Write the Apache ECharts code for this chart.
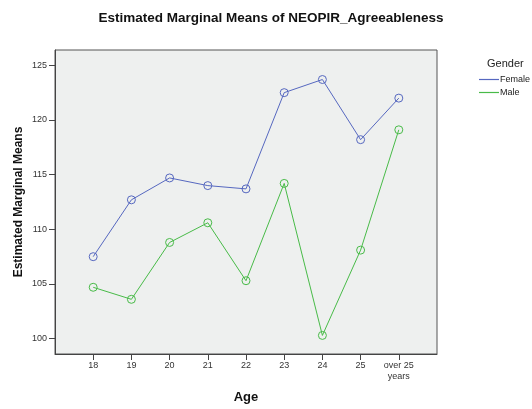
<!DOCTYPE html>
<html>
<head>
<meta charset="utf-8">
<script src="https://cdn.jsdelivr.net/npm/echarts@6/dist/echarts.min.js"></script>
<style>html,body{margin:0;padding:0;background:#fff;}#c{width:532px;height:409px;}</style>
</head>
<body>
<div id="c"></div>
<script>
const ageCategories = ['18', '19', '20', '21', '22', '23', '24', '25', 'over 25\nyears'];
const femaleMeans = [107.5, 112.7, 114.7, 114.0, 113.7, 122.5, 123.7, 118.2, 122.0];
const maleMeans = [104.7, 103.6, 108.8, 110.6, 105.3, 114.2, 100.3, 108.1, 119.1];
const yTickValues = [100, 105, 110, 115, 120, 125];

const font = '"Liberation Sans", Arial, sans-serif';
const femaleColor = '#5668c0';
const maleColor = '#48bb48';
// pad categories with one empty slot on each side
const cats = [''].concat(ageCategories, ['']);
const pad = arr => [null].concat(arr, [null]);

const chart = echarts.init(document.getElementById('c'), null, {renderer: 'canvas'});
chart.setOption({
  animation: false,
  title: {
    text: 'Estimated Marginal Means of NEOPIR_Agreeableness',
    left: 266, top: 6, textAlign: 'center',
    textStyle: {fontFamily: font, fontSize: 13.5, fontWeight: 'bold', color: '#111'}
  },
  legend: {
    data: [
      {name: 'Female', icon: 'rect', itemStyle: {color: femaleColor, borderWidth: 0}},
      {name: 'Male', icon: 'rect', itemStyle: {color: maleColor, borderWidth: 0}}
    ],
    orient: 'vertical', left: 474, top: 70,
    itemWidth: 20, itemHeight: 1.2, itemGap: 4,
    textStyle: {fontFamily: font, fontSize: 9, color: '#222', padding: [0, 0, 0, -4]}
  },
  graphic: [{
    type: 'text', left: 487, top: 58,
    style: {text: 'Gender', fontFamily: font, fontSize: 11, fill: '#222'}
  }],
  grid: {
    left: 55, top: 50, right: 95, bottom: 55,
    show: true, backgroundColor: '#eef0ef', borderColor: '#555', borderWidth: 1
  },
  xAxis: {
    type: 'category', data: cats, boundaryGap: false,
    name: 'Age', nameLocation: 'middle', nameGap: 37,
    nameTextStyle: {fontFamily: font, fontSize: 13, fontWeight: 'bold', color: '#111'},
    axisLine: {show: true, lineStyle: {color: '#444'}},
    axisTick: {show: true, length: 6, lineStyle: {color: '#444'},
      interval: (i) => i > 0 && i < cats.length - 1},
    axisLabel: {fontFamily: font, fontSize: 9, color: '#333', margin: 6, lineHeight: 11,
      interval: (i) => i > 0 && i < cats.length - 1},
    splitLine: {show: false}
  },
  yAxis: {
    type: 'value', min: 98.6, max: 126.4,
    name: 'Estimated Marginal Means', nameLocation: 'middle', nameGap: 30,
    nameMoveOverlap: false,
    nameTextStyle: {fontFamily: font, fontSize: 12, fontWeight: 'bold', color: '#111'},
    axisLine: {show: true, lineStyle: {color: '#444'}},
    axisTick: {show: true, length: 6, lineStyle: {color: '#444'}, customValues: yTickValues},
    axisLabel: {fontFamily: font, fontSize: 9, color: '#333', margin: 8, customValues: yTickValues},
    splitLine: {show: false}
  },
  series: [
    {
      name: 'Female', type: 'line', data: pad(femaleMeans),
      symbol: 'circle', symbolSize: 8,
      lineStyle: {color: femaleColor, width: 1},
      itemStyle: {color: 'rgba(0,0,0,0)', borderColor: femaleColor, borderWidth: 1},
      connectNulls: false
    },
    {
      name: 'Male', type: 'line', data: pad(maleMeans),
      symbol: 'circle', symbolSize: 8,
      lineStyle: {color: maleColor, width: 1},
      itemStyle: {color: 'rgba(0,0,0,0)', borderColor: maleColor, borderWidth: 1},
      connectNulls: false
    }
  ]
});
</script>
</body>
</html>
